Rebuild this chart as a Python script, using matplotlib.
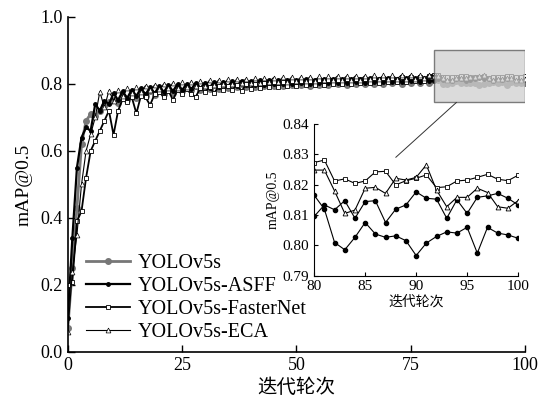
import matplotlib.pyplot as plt
from matplotlib.patches import Rectangle, ConnectionPatch
import numpy as np

epochs = list(range(0, 101))

yolov5s = [
    0.07, 0.25, 0.43, 0.62, 0.69, 0.71, 0.705, 0.72, 0.735, 0.745,
    0.752, 0.744, 0.761, 0.752, 0.768, 0.757, 0.774, 0.763, 0.779, 0.768,
    0.781, 0.771, 0.785, 0.774, 0.789, 0.779, 0.791, 0.781, 0.794, 0.783,
    0.795, 0.785, 0.797, 0.786, 0.799, 0.788, 0.8, 0.79, 0.801, 0.791,
    0.803, 0.792, 0.804, 0.793, 0.805, 0.795, 0.806, 0.794, 0.807, 0.796,
    0.806, 0.797, 0.808, 0.795, 0.807, 0.798, 0.809, 0.797, 0.808, 0.799,
    0.81, 0.798, 0.809, 0.8, 0.811, 0.799, 0.81, 0.801, 0.812, 0.8,
    0.811, 0.802, 0.81, 0.801, 0.812, 0.803, 0.811, 0.802, 0.813, 0.804,
    0.8165, 0.8119, 0.8009, 0.7985, 0.8026, 0.8075, 0.8037, 0.8026, 0.8031, 0.8015,
    0.7966, 0.8007, 0.8029, 0.8044, 0.8040, 0.8059, 0.7974, 0.8059, 0.8040, 0.8034,
    0.8023,
]

asff = [
    0.10, 0.34, 0.55, 0.64, 0.67, 0.66, 0.74, 0.72, 0.75, 0.74,
    0.772, 0.752, 0.778, 0.758, 0.783, 0.764, 0.787, 0.769, 0.79, 0.772,
    0.794, 0.776, 0.796, 0.779, 0.799, 0.782, 0.8, 0.784, 0.803, 0.787,
    0.804, 0.789, 0.806, 0.79, 0.807, 0.793, 0.808, 0.794, 0.81, 0.796,
    0.809, 0.797, 0.811, 0.798, 0.812, 0.799, 0.811, 0.8, 0.813, 0.801,
    0.812, 0.802, 0.814, 0.8, 0.813, 0.803, 0.815, 0.802, 0.814, 0.804,
    0.815, 0.803, 0.816, 0.805, 0.815, 0.804, 0.817, 0.806, 0.816, 0.805,
    0.817, 0.807, 0.816, 0.806, 0.818, 0.808, 0.817, 0.807, 0.818, 0.809,
    0.8095, 0.8133, 0.8117, 0.8147, 0.8089, 0.8144, 0.8147, 0.8075, 0.8119, 0.8133,
    0.8176, 0.8155, 0.8152, 0.8089, 0.8150, 0.8105, 0.8158, 0.8163, 0.8171, 0.8155,
    0.8133,
]

fasternet = [
    0.20, 0.21, 0.39, 0.42, 0.52, 0.60, 0.63, 0.66, 0.69, 0.72,
    0.648, 0.72, 0.755, 0.745, 0.76, 0.712, 0.765, 0.76, 0.737, 0.77,
    0.775, 0.762, 0.78, 0.752, 0.783, 0.771, 0.786, 0.769, 0.762, 0.788,
    0.776, 0.79, 0.772, 0.793, 0.781, 0.795, 0.783, 0.797, 0.778, 0.799,
    0.786, 0.801, 0.789, 0.803, 0.79, 0.805, 0.791, 0.806, 0.793, 0.808,
    0.794, 0.809, 0.796, 0.81, 0.797, 0.811, 0.798, 0.812, 0.799, 0.813,
    0.8, 0.814, 0.801, 0.815, 0.802, 0.816, 0.803, 0.817, 0.804, 0.818,
    0.805, 0.819, 0.806, 0.82, 0.807, 0.821, 0.808, 0.822, 0.809, 0.823,
    0.8273, 0.8281, 0.8212, 0.8219, 0.8204, 0.8212, 0.8242, 0.8244, 0.8199, 0.8213,
    0.8221, 0.8232, 0.8190, 0.8193, 0.8212, 0.8215, 0.8224, 0.8234, 0.8218, 0.8213,
    0.8231,
]

eca = [
    0.06, 0.24, 0.35, 0.50, 0.60, 0.65, 0.70, 0.777, 0.73, 0.78,
    0.75, 0.782, 0.765, 0.787, 0.772, 0.79, 0.776, 0.795, 0.781, 0.797,
    0.784, 0.8, 0.787, 0.803, 0.789, 0.805, 0.791, 0.807, 0.793, 0.809,
    0.795, 0.811, 0.797, 0.812, 0.799, 0.814, 0.8, 0.815, 0.802, 0.816,
    0.803, 0.817, 0.804, 0.818, 0.805, 0.819, 0.806, 0.82, 0.807, 0.821,
    0.808, 0.821, 0.809, 0.822, 0.81, 0.823, 0.811, 0.823, 0.812, 0.824,
    0.812, 0.824, 0.813, 0.825, 0.813, 0.825, 0.814, 0.826, 0.814, 0.826,
    0.815, 0.826, 0.815, 0.827, 0.816, 0.827, 0.816, 0.827, 0.817, 0.828,
    0.8248, 0.8248, 0.8179, 0.8105, 0.8116, 0.8188, 0.8191, 0.8171, 0.8221, 0.8215,
    0.8224, 0.8265, 0.8182, 0.8127, 0.8158, 0.8158, 0.8188, 0.8174, 0.8127, 0.8122,
    0.8147,
]

labels = ['YOLOv5s', 'YOLOv5s-ASFF', 'YOLOv5s-FasterNet', 'YOLOv5s-ECA']

serif = ['Liberation Serif', 'DejaVu Serif']
cjk = ['Noto Sans CJK SC', 'DejaVu Sans']
plt.rcParams['font.family'] = serif

fig = plt.figure(figsize=(5.38, 4.04), dpi=100)
ax = fig.add_axes([0.126, 0.129, 0.85, 0.829])

styles = [
    dict(color='#777777', lw=2.0, marker='o', ms=4, mfc='#777777', mec='#777777'),
    dict(color='black', lw=1.6, marker='o', ms=2.5, mfc='black', mec='black'),
    dict(color='black', lw=1.3, marker='s', ms=3.5, mfc='white', mec='black', mew=0.6),
    dict(color='black', lw=0.8, marker='^', ms=3.5, mfc='white', mec='black', mew=0.5),
]
series = [yolov5s, asff, fasternet, eca]

for ys, lab, st in zip(series, labels, styles):
    ax.plot(epochs, ys, label=lab, **st)

ax.set_xlim(0, 100)
ax.set_ylim(0, 1.0)
ax.set_xticks([0, 25, 50, 75, 100])
ax.set_yticks(np.arange(0, 1.01, 0.2))
ax.set_yticklabels(['0.0', '0.2', '0.4', '0.6', '0.8', '1.0'])
ax.tick_params(direction='in', labelsize=13, length=5, width=1)
ax.spines['top'].set_visible(False)
ax.spines['right'].set_visible(False)
for s in ['left', 'bottom']:
    ax.spines[s].set_linewidth(1.2)
ax.set_xlabel('迭代轮次', family=cjk, fontsize=14, labelpad=2)
ax.set_ylabel('mAP@0.5', fontsize=14, labelpad=6)

leg = ax.legend(loc='lower left', bbox_to_anchor=(0.0, -0.025), frameon=False,
                fontsize=14.5, handlelength=2.2, handletextpad=0.35, labelspacing=0.2)

rect = Rectangle((80, 0.745), 20, 0.155, facecolor='#cfcfcf', edgecolor='#555555',
                 lw=1.0, alpha=0.75, zorder=5)
ax.add_patch(rect)

# inset
axi = fig.add_axes([0.584, 0.318, 0.379, 0.375])
for ys in series:
    axi.plot(epochs, ys, color='black', lw=0.8)
axi.plot(epochs, yolov5s, ls='none', marker='o', ms=3, mfc='black', mec='black')
axi.plot(epochs, asff, ls='none', marker='o', ms=3, mfc='black', mec='black')
axi.plot(epochs, fasternet, ls='none', marker='s', ms=3, mfc='white', mec='black', mew=0.6)
axi.plot(epochs, eca, ls='none', marker='^', ms=3.5, mfc='white', mec='black', mew=0.6)
axi.set_xlim(80, 100)
axi.set_ylim(0.79, 0.84)
axi.set_xticks([80, 85, 90, 95, 100])
axi.set_yticks([0.79, 0.80, 0.81, 0.82, 0.83, 0.84])
axi.set_yticklabels(['0.79', '0.80', '0.81', '0.82', '0.83', '0.84'])
axi.tick_params(direction='in', labelsize=11, length=3, width=0.8)
axi.spines['top'].set_visible(False)
axi.spines['right'].set_visible(False)
axi.patch.set_alpha(0)
axi.set_xlabel('迭代轮次', family=cjk, fontsize=10, labelpad=1)
axi.set_ylabel('mAP@0.5', fontsize=10, labelpad=2)

con = ConnectionPatch(xyA=(85, 0.745), coordsA=ax.transData,
                      xyB=(88, 0.829), coordsB=axi.transData,
                      color='#333333', lw=0.7)
fig.add_artist(con)

fig.savefig('out.png', dpi=100)
